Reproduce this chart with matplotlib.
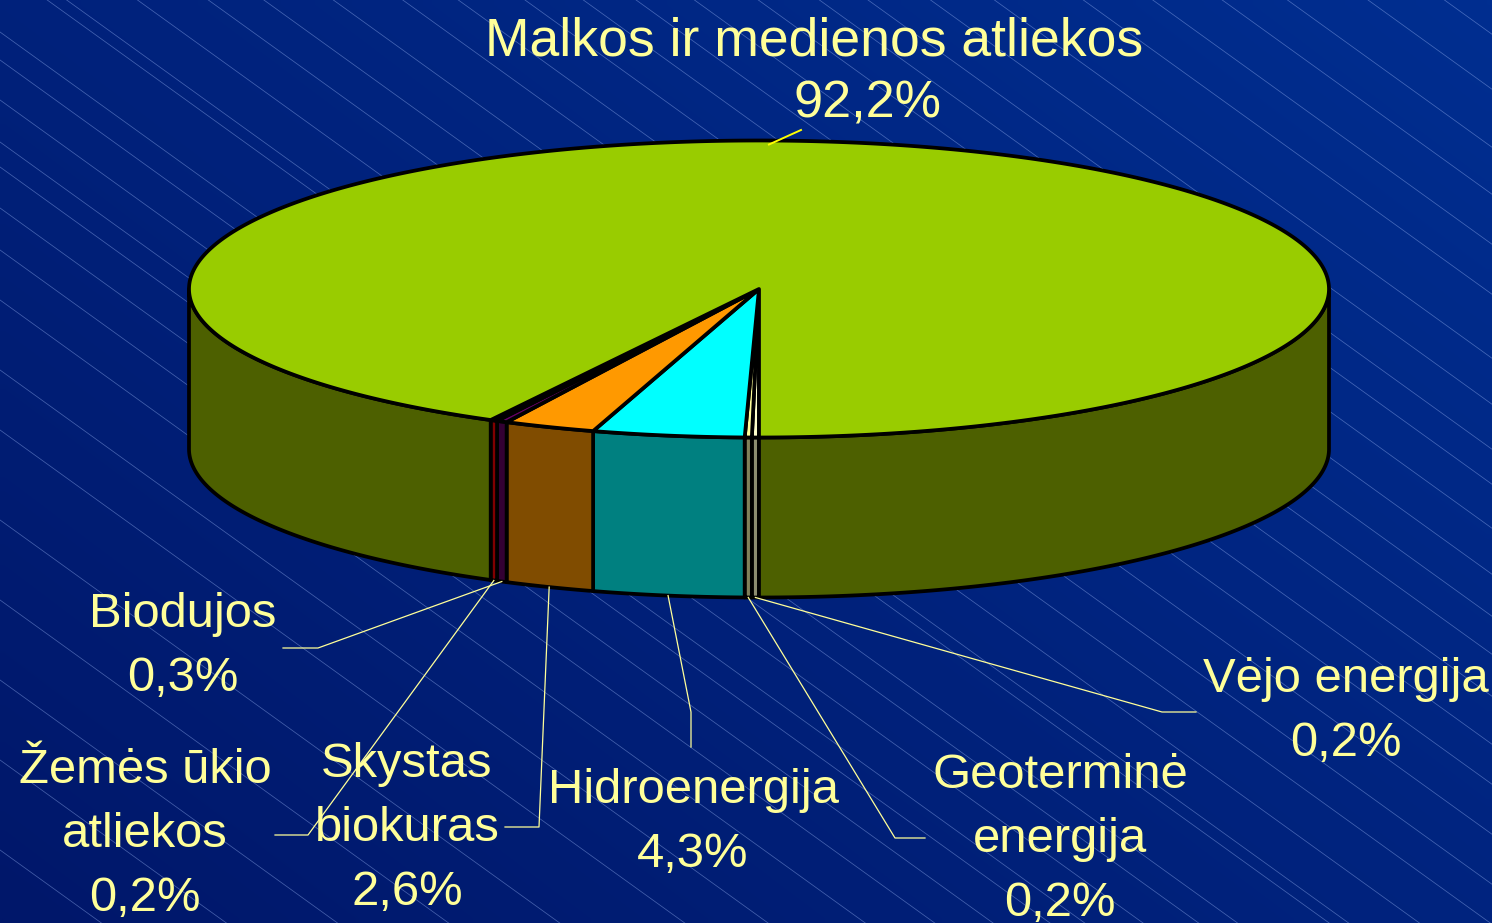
import numpy as np
import matplotlib.pyplot as plt
from matplotlib.patches import Polygon

plt.rcParams['font.family'] = ['Liberation Sans', 'DejaVu Sans']

# slices in the order they run from the front of the pie, turning left
sources = ["Vėjo energija", "Geoterminė energija", "Hidroenergija", "Skystas biokuras",
           "Biodujos", "Žemės ūkio atliekos", "Malkos ir medienos atliekos"]
shares = [0.2, 0.2, 4.3, 2.6, 0.3, 0.2, 92.2]
label_lines = [["Vėjo energija"], ["Geoterminė", "energija"], ["Hidroenergija"],
               ["Skystas", "biokuras"], ["Biodujos"], ["Žemės ūkio", "atliekos"],
               ["Malkos ir medienos atliekos"]]
top_colors = ["#FFFFCC", "#FFFF99", "#00FFFF", "#FF9900", "#660066", "#990000", "#99CC00"]
side_colors = ["#8C8C70", "#80805A", "#008080", "#804C00", "#330033", "#800000", "#4D6000"]

# background hatch lines: y = b + slope * x
hatch_b = [-1040, -985, -927, -880, -830, -780, -716, -670, -625, -590, -546, -500,
           -458, -420, -378, -330, -290, -240, -190, -150, -99, -48, -34, 32, 60,
           100, 142, 167, 208, 250, 300, 370, 430, 520, 600, 680, 760, 850]
hatch_slope = 0.72

W, H = 1492, 923
cx, cy, rx, ry, depth = 759, 289, 570, 148.5, 160
txt_color = "#FFFF99"

fig = plt.figure(figsize=(W / 100, H / 100), dpi=100)
ax = fig.add_axes([0, 0, 1, 1])
ax.set_xlim(0, W)
ax.set_ylim(H, 0)
ax.axis('off')

# gradient background
gx, gy = np.meshgrid(np.linspace(0, 1, 160), np.linspace(0, 1, 100))
t = 0.55 * gx + 0.45 * (1 - gy)
c0 = np.array([0x00, 0x17, 0x6A]) / 255
c1 = np.array([0x00, 0x2E, 0x90]) / 255
bg = c0 + t[..., None] * (c1 - c0)
ax.imshow(bg, extent=[0, W, H, 0], aspect='auto', interpolation='bilinear', zorder=0)

xs = np.array([0, W])
for b in hatch_b:
    ax.plot(xs, b + hatch_slope * xs, color=(0.6, 0.7, 0.95), alpha=0.45, lw=0.55, zorder=1)


def pt(a_deg, drop=0.0):
    a = np.radians(a_deg)
    return cx - rx * np.sin(a), cy + ry * np.cos(a) + drop


bounds = np.concatenate([[0], np.cumsum(shares)]) * 3.6

# side walls (front half only)
for i in range(len(shares)):
    a0, a1 = bounds[i], bounds[i + 1]
    for lo, hi in [(0, 90), (270, 360)]:
        s, e = max(a0, lo), min(a1, hi)
        if e <= s:
            continue
        arc = np.linspace(s, e, max(int((e - s) * 2), 4))
        top = [pt(a) for a in arc]
        bot = [pt(a, depth) for a in arc[::-1]]
        ax.add_patch(Polygon(top + bot, closed=True, fc=side_colors[i], ec='black',
                             lw=2.7, joinstyle='round', zorder=2))

# top faces
for i in range(len(shares)):
    a0, a1 = bounds[i], bounds[i + 1]
    arc = np.linspace(a0, a1, max(int((a1 - a0) * 2), 4))
    verts = [(cx, cy)] + [pt(a) for a in arc]
    ax.add_patch(Polygon(verts, closed=True, fc=top_colors[i], ec='black',
                         lw=2.7, joinstyle='round', zorder=3))

# labels: first baseline, leader elbow and end
layout = {
    "Vėjo energija": ((1346, 692), [(1162, 712), (1196, 712)]),
    "Geoterminė energija": ((1060, 788), [(895, 838), (925, 838)]),
    "Hidroenergija": ((693, 803), [(691, 712), (691, 747)]),
    "Skystas biokuras": ((407, 777), [(539, 827), (505, 827)]),
    "Biodujos": ((183, 627), [(318, 648), (283, 648)]),
    "Žemės ūkio atliekos": ((145, 783), [(308, 835), (275, 835)]),
}
step = 64

for i, name in enumerate(sources):
    pct = f"{shares[i]:.1f}%".replace('.', ',')
    mid = (bounds[i] + bounds[i + 1]) / 2
    if name in layout:
        (tx, ty), leader = layout[name]
        anchor = pt(mid, depth)
        lines = label_lines[i] + [pct]
        for k, line in enumerate(lines):
            ax.text(tx, ty + k * step, line, color=txt_color, fontsize=35.3,
                    ha='center', va='baseline', zorder=5)
        px, py = zip(*([anchor] + leader))
        ax.plot(px, py, color=txt_color, lw=0.9, zorder=4)
    else:
        # big slice, label above the pie
        ax.text(814, 55, label_lines[i][0], color=txt_color, fontsize=38.5,
                ha='center', va='baseline', zorder=5)
        ax.text(867, 118, pct, color=txt_color, fontsize=37.5,
                ha='center', va='baseline', zorder=5)
        anchor = pt(181)
        ax.plot([anchor[0], 801], [anchor[1] + 4, 130], color="#FFFF00", lw=1.4, zorder=4)

fig.savefig('out.png', dpi=100)
